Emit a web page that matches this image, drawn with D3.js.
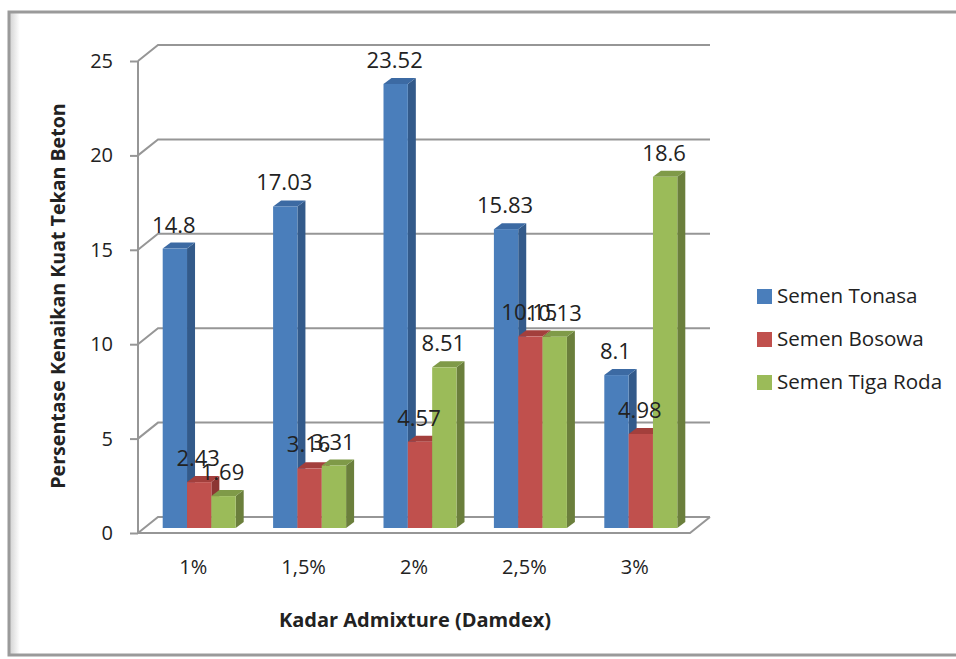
<!DOCTYPE html>
<html>
<head>
<meta charset="utf-8">
<script src="https://cdn.jsdelivr.net/npm/d3@7"></script>
<style>
body { margin: 0; background: #fff; }
svg { display: block; }
text { font-family: "Open Sans", "Noto Sans", sans-serif; fill: #222; }
</style>
</head>
<body>
<svg width="956" height="659"></svg>
<script>
var categories = ["1%", "1,5%", "2%", "2,5%", "3%"];
var seriesNames = ["Semen Tonasa", "Semen Bosowa", "Semen Tiga Roda"];
var tonasa = [14.8, 17.03, 23.52, 15.83, 8.1];
var bosowa = [2.43, 3.16, 4.57, 10.15, 4.98];
var tigaRoda = [1.69, 3.31, 8.51, 10.13, 18.6];
var yTicks = [0, 5, 10, 15, 20, 25];

var seriesValues = [tonasa, bosowa, tigaRoda];
var frontColors = ["#4a7ebb", "#c0504d", "#9bbb59"];
var topColors = ["#3c6aa3", "#a33f3c", "#7f9a48"];
var sideColors = ["#335a8a", "#8c3533", "#6b7f3c"];

var svg = d3.select("svg");

// soft shadow inside the left edge of the frame
var shade = svg.append("defs").append("linearGradient").attr("id", "leftShade");
shade.append("stop").attr("offset", "0%").attr("stop-color", "#d4d4d4");
shade.append("stop").attr("offset", "100%").attr("stop-color", "#fff");
svg.append("rect")
    .attr("x", 10).attr("y", 13)
    .attr("width", 10).attr("height", 641)
    .attr("fill", "url(#leftShade)");

// outer frame
svg.append("rect")
    .attr("x", 9).attr("y", 12)
    .attr("width", 960).attr("height", 643)
    .attr("fill", "none")
    .attr("stroke", "#9a9a9a")
    .attr("stroke-width", 3);

var gridColor = "#969696";
var depthX = 20;
var depthY = 16;
var barDepthX = 8;
var barDepthY = 6;
var barBase = 528;

var xScale = d3.scaleBand()
    .domain(categories)
    .range([138, 690]);

var seriesScale = d3.scaleBand()
    .domain(seriesNames)
    .range([0, 73]);

var yScale = d3.scaleLinear()
    .domain([0, 25])
    .range([533, 61]);

// height of a value above the bar floor
var barHeight = d => yScale(0) - yScale(d);

// back wall lines + diagonal on the side wall
var grid = svg.append("g");
yTicks.forEach(t => {
    var y = yScale(t);
    grid.append("path")
        .attr("d", `M138,${y}L${138 + depthX},${y - depthY}L${690 + depthX},${y - depthY}`)
        .attr("fill", "none")
        .attr("stroke", gridColor)
        .attr("stroke-width", 2);
});

// floor front edge
grid.append("path")
    .attr("d", `M138,${yScale(0)}L690,${yScale(0)}L${690 + depthX},${yScale(0) - depthY}`)
    .attr("fill", "none")
    .attr("stroke", gridColor)
    .attr("stroke-width", 2);

var yAxis = d3.axisLeft(yScale)
    .tickValues(yTicks)
    .tickSize(8)
    .tickPadding(17)
    .tickFormat(d3.format("d"));

var yG = svg.append("g")
    .attr("transform", "translate(138, 0)")
    .call(yAxis);
yG.selectAll("path, line").attr("stroke", gridColor).attr("stroke-width", 2);
yG.select(".domain").attr("d", `M0,${yScale(25)}V${yScale(0)}`);
yG.selectAll("text").style("font-size", "20px");

var xAxis = d3.axisBottom(xScale).tickSize(0).tickPadding(27);
var xG = svg.append("g")
    .attr("transform", `translate(0, ${yScale(0)})`)
    .call(xAxis);
xG.select(".domain").remove();
xG.selectAll("text").style("font-size", "20px");

// bars, drawn back to front per group
var groupOffset = (xScale.bandwidth() - 73) / 2 + 6;

categories.forEach((cat, c) => {
    seriesNames.forEach((name, s) => {
        var v = seriesValues[s][c];
        var x0 = xScale(cat) + groupOffset + seriesScale(name);
        var w = seriesScale.bandwidth();
        var top = barBase - barHeight(v);
        var g = svg.append("g").attr("class", "bar");

        // side face
        g.append("path")
            .attr("d", `M${x0 + w},${top}L${x0 + w + barDepthX},${top - barDepthY}L${x0 + w + barDepthX},${barBase - barDepthY}L${x0 + w},${barBase}Z`)
            .attr("fill", sideColors[s]);
        // top face
        g.append("path")
            .attr("d", `M${x0},${top}L${x0 + barDepthX},${top - barDepthY}L${x0 + w + barDepthX},${top - barDepthY}L${x0 + w},${top}Z`)
            .attr("fill", topColors[s]);
        // front face
        g.append("rect")
            .attr("x", x0)
            .attr("y", top)
            .attr("width", w)
            .attr("height", barHeight(v))
            .attr("fill", frontColors[s]);
    });
});

// data labels go last, they overlap the bars
categories.forEach((cat, c) => {
    seriesNames.forEach((name, s) => {
        var v = seriesValues[s][c];
        var x0 = xScale(cat) + groupOffset + seriesScale(name);
        svg.append("text")
            .attr("x", x0 + seriesScale.bandwidth() / 2 - 1)
            .attr("y", barBase - barHeight(v) - 16)
            .attr("text-anchor", "middle")
            .style("font-size", "22px")
            .text(v);
    });
});

// axis titles
svg.append("text")
    .attr("x", 415)
    .attr("y", 627)
    .attr("text-anchor", "middle")
    .style("font-size", "20px")
    .style("font-weight", "bold")
    .text("Kadar Admixture (Damdex)");

svg.append("text")
    .attr("transform", "translate(65, 296)rotate(-90)")
    .attr("text-anchor", "middle")
    .style("font-size", "19.6px")
    .style("font-weight", "bold")
    .text("Persentase Kenaikan Kuat Tekan Beton");

// legend
var legendY = d3.scalePoint()
    .domain(seriesNames)
    .range([296, 382]);

seriesNames.forEach((name, s) => {
    var y = legendY(name);
    svg.append("rect")
        .attr("x", 757)
        .attr("y", y - 7)
        .attr("width", 15)
        .attr("height", 15)
        .attr("fill", frontColors[s]);
    svg.append("text")
        .attr("x", 777)
        .attr("y", y + 7)
        .style("font-size", "20.6px")
        .text(name);
});
</script>
</body>
</html>
